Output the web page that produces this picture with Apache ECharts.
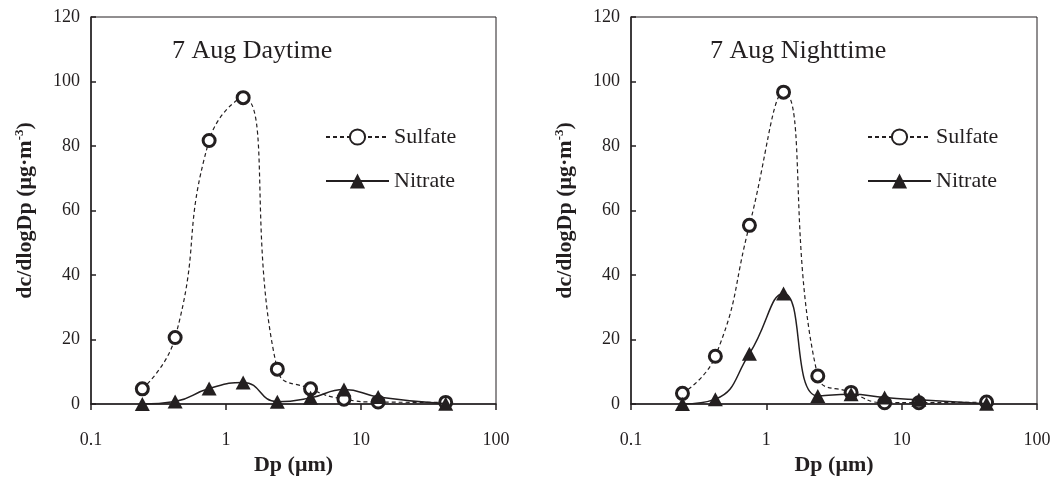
<!DOCTYPE html>
<html>
<head>
<meta charset="utf-8">
<script src="https://cdn.jsdelivr.net/npm/echarts@6/dist/echarts.min.js"></script>
<style>
html,body{margin:0;padding:0;background:#fff;}
#chart{width:1059px;height:481px;}
</style>
</head>
<body>
<div id="chart"></div>
<script>
// Particle diameter (µm) – stage midpoints
const dp = [0.24, 0.42, 0.75, 1.34, 2.4, 4.23, 7.48, 13.4, 42.4];
// 7 Aug Daytime
const daySulfate = [4.7, 20.6, 81.7, 95.0, 10.8, 4.7, 1.5, 0.6, 0.5];
const dayNitrate = [0.0, 0.8, 4.8, 6.7, 0.7, 1.9, 4.5, 2.2, 0.1];
// 7 Aug Nighttime
const nightSulfate = [3.3, 14.8, 55.4, 96.7, 8.7, 3.6, 0.4, 0.4, 0.6];
const nightNitrate = [0.0, 1.5, 15.6, 34.3, 2.5, 3.0, 2.0, 1.3, 0.1];
// Panel texts
const panelTitles = ['7 Aug Daytime', '7 Aug Nighttime'];
const seriesNames = ['Sulfate', 'Nitrate'];
const xTicks = [0.1, 1, 10, 100];
const yTicks = [0, 20, 40, 60, 80, 100, 120];

const FONT = '"Liberation Serif", "Times New Roman", serif';
const INK = '#231f20';

function pairs(xs, ys) { return xs.map((x, i) => [x, ys[i]]); }

const grids = [
  { left: 91, top: 17, width: 405, height: 391 },
  { left: 631, top: 17, width: 406, height: 391 }
];

const chart = echarts.init(document.getElementById('chart'), null, { renderer: 'canvas' });

const xAxes = grids.map((g, i) => ({
  type: 'log', logBase: 10, gridIndex: i,
  min: xTicks[0], max: xTicks[xTicks.length - 1],
  name: 'Dp (μm)', nameLocation: 'middle', nameGap: 50,
  nameTextStyle: { fontFamily: FONT, fontWeight: 'bold', fontSize: 22, color: INK },
  axisLine: { lineStyle: { color: INK, width: 1.5 } },
  axisTick: { show: true, inside: false, length: 6, lineStyle: { color: INK, width: 1.5 } },
  minorTick: { show: false },
  splitLine: { show: false },
  axisLabel: { fontFamily: FONT, fontSize: 18, color: INK, margin: 27,
    formatter: v => String(+Number(v).toPrecision(3)) }
}));

const yAxes = grids.map((g, i) => ({
  type: 'value', gridIndex: i,
  min: yTicks[0], max: yTicks[yTicks.length - 1], interval: 20,
  name: '{a|dc/dlogDp (μg·m}{s|-3}{a|)}',
  nameLocation: 'middle', nameRotate: 90, nameGap: 54,
  nameTextStyle: {
    rich: {
      a: { fontFamily: FONT, fontWeight: 'bold', fontSize: 22, color: INK, lineHeight: 24 },
      s: { fontFamily: FONT, fontWeight: 'bold', fontSize: 13, color: INK, lineHeight: 24, verticalAlign: 'top', padding: [0, 0, 9, 0] }
    }
  },
  axisLine: { show: true, lineStyle: { color: INK, width: 1.5 } },
  axisTick: { show: true, inside: true, length: 5, lineStyle: { color: INK, width: 1.5 } },
  splitLine: { show: false },
  axisLabel: { fontFamily: FONT, fontSize: 18, color: INK, margin: 11 }
}));

function sulfateSeries(i, ys) {
  return {
    name: seriesNames[0], type: 'line', xAxisIndex: i, yAxisIndex: i,
    data: pairs(dp, ys), smooth: 0.5,
    symbol: 'circle', symbolSize: 12,
    itemStyle: { color: '#fff', borderColor: INK, borderWidth: 3 },
    lineStyle: { color: INK, width: 1.2, type: [4, 3] },
    z: 2
  };
}
function nitrateSeries(i, ys) {
  return {
    name: seriesNames[1], type: 'line', xAxisIndex: i, yAxisIndex: i,
    data: pairs(dp, ys), smooth: 0.5,
    symbol: 'triangle', symbolSize: [15, 14],
    itemStyle: { color: INK, borderColor: INK, borderWidth: 0 },
    lineStyle: { color: INK, width: 1.5, type: 'solid' },
    z: 3
  };
}

const legendLefts = [325, 867];
const titleLefts = [172, 710];

chart.setOption({
  animation: false,
  backgroundColor: '#fff',
  grid: grids.map(g => Object.assign({ show: true, borderColor: INK, borderWidth: 1, backgroundColor: 'transparent' }, g)),
  title: panelTitles.map((t, i) => ({
    text: t, left: titleLefts[i], top: 38, padding: 0,
    textStyle: { fontFamily: FONT, fontWeight: 'normal', fontSize: 26, color: INK }
  })),
  legend: legendLefts.map(l => ({
    data: seriesNames, orient: 'vertical', left: l, top: 126, padding: 0,
    itemWidth: 63, itemHeight: 19, itemGap: 22,
    textStyle: { fontFamily: FONT, fontSize: 22, color: INK },
    selectedMode: false
  })),
  xAxis: xAxes,
  yAxis: yAxes,
  series: [
    sulfateSeries(0, daySulfate), nitrateSeries(0, dayNitrate),
    sulfateSeries(1, nightSulfate), nitrateSeries(1, nightNitrate)
  ]
});
</script>
</body>
</html>
